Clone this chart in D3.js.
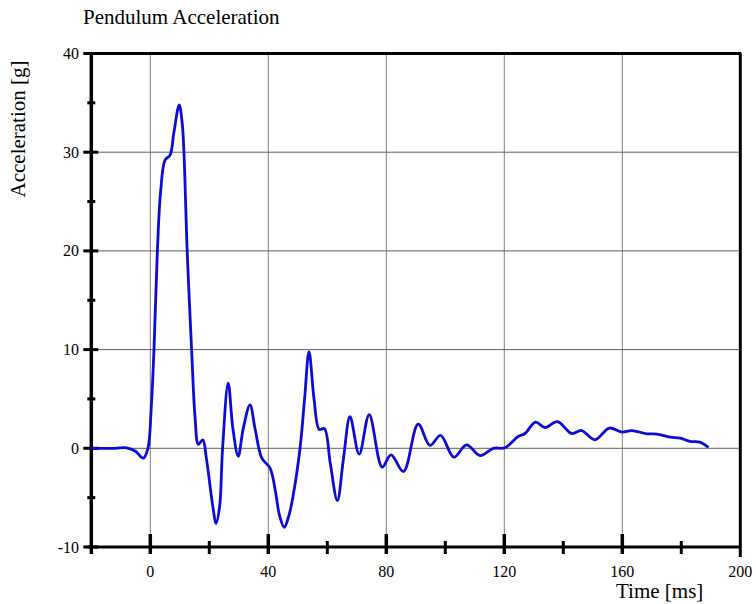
<!DOCTYPE html>
<html>
<head>
<meta charset="utf-8">
<script src="https://cdn.jsdelivr.net/npm/d3@7"></script>
<style>
  body { margin: 0; background: #fff; }
  text { font-family: "Liberation Serif", "Times New Roman", serif; fill: #000; }
</style>
</head>
<body>
<div id="chart"></div>
<script>
// Pendulum acceleration trace

// time in ms and acceleration in g
const timeMs = [-20, -12, -8, -5, -2.4, -0.8, 0.3, 1.25, 2.4, 3.5, 5, 6.7, 8, 9.8, 10.8, 11.4, 12.5, 14, 15.2, 16.3, 17.8, 19,
  21.2, 22.3, 23.5, 24.5, 26.4, 28, 29.8, 31.5, 33.8, 35.5, 37.8, 40.6, 42.5, 43.8, 45.4, 47, 48.3, 50.7, 52.3, 53.8, 55.5,
  57.3, 59, 61, 63.4, 65.5, 67.7, 70.8, 74.2, 78.6, 81.6, 85.8, 90.8, 94.8, 98.4, 102.9, 107.2, 111.8, 116.3, 120.2,
  124.7, 127, 130.6, 133.8, 138, 142.8, 146.2, 150.7, 155.6, 159.8, 163.2, 168.3, 171.7, 176.2, 179.6, 183, 186.3, 189.2];
const accelG = [0, 0, 0.05, -0.3, -1.0, 0, 4, 10, 20, 26, 29.2, 29.7, 32, 34.8, 33, 30, 20, 10, 3, 0.4, 0.86, -1,
  -5.9, -7.6, -5.9, 0, 6.6, 2, -0.8, 2, 4.4, 2, -1.0, -2.0, -4.5, -6.8, -8.0, -6.8, -5, -0.15, 5, 9.8, 5,
  1.9, 2.0, -1.5, -5.3, -1, 3.2, -0.6, 3.4, -1.9, -0.66, -2.35, 2.45, 0.3, 1.3, -0.9, 0.35, -0.73, 0, 0.05,
  1.2, 1.5, 2.65, 2.1, 2.7, 1.5, 1.8, 0.86, 2.05, 1.64, 1.8, 1.47, 1.44, 1.13, 1.03, 0.69, 0.63, 0.08];

// tick values
const xMajor = [0, 40, 80, 120, 160];
const xMinor = [20, 60, 100, 140, 180];
const xLabels = [0, 40, 80, 120, 160, 200];
const yMajor = [-10, 0, 10, 20, 30, 40];
const yMinor = [-5, 5, 15, 25, 35];
const yGrid = [0, 10, 20, 30];

const width = 756, height = 604;

const svg = d3.select("#chart")
  .append("svg")
  .attr("width", width)
  .attr("height", height);

let x = d3.scaleLinear().domain([-20, 200]).range([91.3, 740.3]);
let y = d3.scaleLinear().domain([-10, 40]).range([547, 53.5]);

// grid lines
svg.append("g").selectAll("line")
  .data(xMajor).join("line")
  .attr("x1", d => x(d)).attr("x2", d => x(d))
  .attr("y1", y(40)).attr("y2", y(-10))
  .attr("stroke", "#808080").attr("stroke-width", 1);

svg.append("g").selectAll("line")
  .data(yGrid).join("line")
  .attr("x1", x(-20)).attr("x2", x(200))
  .attr("y1", d => y(d)).attr("y2", d => y(d))
  .attr("stroke", "#606060").attr("stroke-width", 1);

// frame
svg.append("line") // top
  .attr("x1", x(-20)).attr("x2", x(200) + 1)
  .attr("y1", y(40)).attr("y2", y(40))
  .attr("stroke", "#000").attr("stroke-width", 3);
svg.append("line") // right, runs a bit below the axis
  .attr("x1", x(200)).attr("x2", x(200))
  .attr("y1", y(40)).attr("y2", y(-10) + 10)
  .attr("stroke", "#000").attr("stroke-width", 3);
svg.append("line") // left axis
  .attr("x1", x(-20)).attr("x2", x(-20))
  .attr("y1", y(40)).attr("y2", y(-10) + 7)
  .attr("stroke", "#000").attr("stroke-width", 3.5);
svg.append("line") // bottom axis
  .attr("x1", x(-20) - 4).attr("x2", x(200))
  .attr("y1", y(-10)).attr("y2", y(-10))
  .attr("stroke", "#000").attr("stroke-width", 3);

// x ticks
svg.append("g").selectAll("line")
  .data(xMajor).join("line")
  .attr("x1", d => x(d)).attr("x2", d => x(d))
  .attr("y1", y(-10) - 13).attr("y2", y(-10) + 7)
  .attr("stroke", "#000").attr("stroke-width", 3.5);
svg.append("g").selectAll("line")
  .data(xMinor).join("line")
  .attr("x1", d => x(d)).attr("x2", d => x(d))
  .attr("y1", y(-10) - 6).attr("y2", y(-10) + 7)
  .attr("stroke", "#000").attr("stroke-width", 3);

// y ticks
svg.append("g").selectAll("line")
  .data(yMajor).join("line")
  .attr("x1", x(-20) - 8).attr("x2", x(-20) + 7)
  .attr("y1", d => y(d)).attr("y2", d => y(d))
  .attr("stroke", "#000").attr("stroke-width", 3);
svg.append("g").selectAll("line")
  .data(yMinor).join("line")
  .attr("x1", x(-20) - 4).attr("x2", x(-20) + 4)
  .attr("y1", d => y(d)).attr("y2", d => y(d))
  .attr("stroke", "#000").attr("stroke-width", 3);

// tick labels
svg.append("g").selectAll("text")
  .data(xLabels).join("text")
  .attr("x", d => x(d))
  .attr("y", 577)
  .attr("text-anchor", "middle")
  .attr("font-size", "16px")
  .text(d => d);

svg.append("g").selectAll("text")
  .data(yMajor).join("text")
  .attr("x", 79)
  .attr("y", d => y(d) + 5.5)
  .attr("text-anchor", "end")
  .attr("font-size", "16px")
  .text(d => d);

// title and axis labels
svg.append("text")
  .attr("x", 83).attr("y", 24)
  .attr("font-size", "21px")
  .text("Pendulum Acceleration");

svg.append("text")
  .attr("x", 616).attr("y", 598)
  .attr("font-size", "21px")
  .text("Time [ms]");

svg.append("text")
  .attr("transform", "translate(25,129) rotate(-90)")
  .attr("text-anchor", "middle")
  .attr("font-size", "21px")
  .text("Acceleration [g]");

// the trace
const points = timeMs.map((t, i) => [t, accelG[i]]);

let line = d3.line()
  .x(d => x(d[0]))
  .y(d => y(d[1]))
  .curve(d3.curveCatmullRom.alpha(0.5));

svg.append("path")
  .datum(points)
  .attr("d", line)
  .attr("fill", "none")
  .attr("stroke", "#0c0cd8")
  .attr("stroke-width", 2.8)
  .attr("stroke-linejoin", "round");
</script>
</body>
</html>
